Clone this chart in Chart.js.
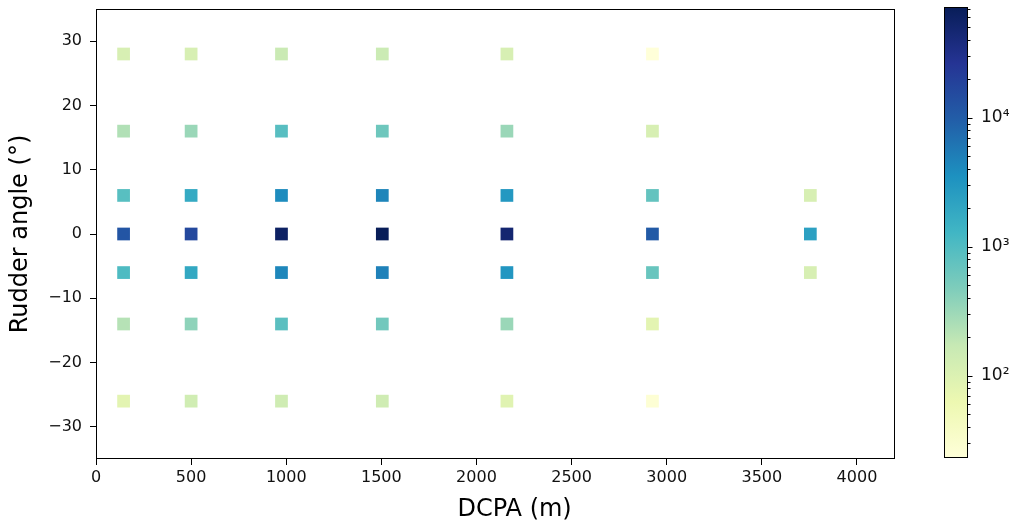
<!DOCTYPE html>
<html>
<head>
<meta charset="utf-8">
<script src="https://cdn.jsdelivr.net/npm/chart.js@4"></script>
<style>
  html, body { margin: 0; padding: 0; background: #fff; }
  #wrap { position: relative; width: 1011px; height: 530px; }
  #main { position: absolute; left: 0; top: 0; }
  #cbar { position: absolute; left: 900px; top: 0; }
</style>
</head>
<body>
<div id="wrap">
  <canvas id="main" width="1011" height="530"></canvas>
  <canvas id="cbar" width="111" height="530"></canvas>
</div>
<script>
// DCPA bins (m) and rudder angle bins (deg)
const dcpa = [145, 500, 975, 1505, 2160, 2925, 3755];
const rudder = [28, 16, 6, 0, -6, -14, -26];

// counts per rudder row, one entry per DCPA bin (null = empty cell)
const countsR28  = [114, 114, 157, 155, 114, 23, null];
const countsR16  = [234, 323, 890, 620, 323, 114, null];
const countsR6   = [880, 1800, 3900, 4500, 2900, 730, 114];
const countsR0   = [12000, 16500, 60000, 72000, 48000, 10700, 2330];
const countsRm6  = [1050, 1900, 4300, 4800, 3100, 680, 114];
const countsRm14 = [218, 380, 850, 580, 323, 83, null];
const countsRm26 = [83, 134, 140, 140, 89, 26, null];
const countRows = [countsR28, countsR16, countsR6, countsR0, countsRm6, countsRm14, countsRm26];

const xTicks = [0, 500, 1000, 1500, 2000, 2500, 3000, 3500, 4000];
const yTicks = [-30, -20, -10, 0, 10, 20, 30];
const cbarMajor = [100, 1000, 10000];
const cbarMajorLabels = ['10\u00b2', '10\u00b3', '10\u2074'];

// YlGnBu colormap stops
const ylgnbu = ['#ffffd9', '#edf8b1', '#c7e9b4', '#7fcdbb', '#41b6c4', '#1d91c0', '#225ea8', '#253494', '#081d58'];

const allCounts = countRows.flat().filter(v => v !== null);
const vmin = Math.min(...allCounts);
const vmax = Math.max(...allCounts);

function hexToRgb(h) {
  return [parseInt(h.slice(1, 3), 16), parseInt(h.slice(3, 5), 16), parseInt(h.slice(5, 7), 16)];
}

function cmap(t) {
  t = Math.max(0, Math.min(1, t));
  const p = t * (ylgnbu.length - 1);
  const i = Math.min(ylgnbu.length - 2, Math.floor(p));
  const f = p - i;
  const a = hexToRgb(ylgnbu[i]), b = hexToRgb(ylgnbu[i + 1]);
  const c = a.map((v, k) => Math.round(v + (b[k] - v) * f));
  return `rgb(${c[0]},${c[1]},${c[2]})`;
}

function colorFor(v) {
  const t = (Math.log10(v) - Math.log10(vmin)) / (Math.log10(vmax) - Math.log10(vmin));
  return cmap(t);
}

// build scatter points from the arrays
const points = [];
countRows.forEach((row, i) => {
  row.forEach((v, j) => {
    if (v !== null) points.push({ x: dcpa[j], y: rudder[i], v: v });
  });
});

// draws the box around the plot area
const frame = {
  id: 'frame',
  afterDraw(chart) {
    const { ctx, chartArea: a } = chart;
    ctx.save();
    ctx.strokeStyle = '#000';
    ctx.lineWidth = 1;
    ctx.strokeRect(Math.round(a.left) + 0.5, Math.round(a.top) + 0.5,
      Math.round(a.right - a.left) - 1, Math.round(a.bottom - a.top) - 1);
    ctx.restore();
  }
};

// keep label overhang from pushing the plot area around
function noPad(s) {
  s.paddingTop = 0; s.paddingBottom = 0; s.paddingLeft = 0; s.paddingRight = 0;
}

const tickFont = { family: 'DejaVu Sans', size: 16 };
const titleFont = { family: 'DejaVu Sans', size: 24, lineHeight: 1.2 };

new Chart(document.getElementById('main'), {
  type: 'scatter',
  data: {
    datasets: [{
      data: points,
      pointStyle: 'rect',
      pointRadius: 9,
      pointHoverRadius: 9,
      borderWidth: 0,
      backgroundColor: ctx => ctx.raw ? colorFor(ctx.raw.v) : '#fff'
    }]
  },
  options: {
    responsive: false,
    animation: false,
    layout: { padding: { left: 0, top: 7, right: 116, bottom: 0 } },
    plugins: { legend: { display: false }, tooltip: { enabled: false } },
    scales: {
      x: {
        type: 'linear', min: 0, max: 4200,
        afterBuildTicks: s => { s.ticks = xTicks.map(v => ({ value: v })); },
        afterFit: s => { s.height = 71; noPad(s); },
        border: { display: false },
        grid: { drawOnChartArea: false, drawTicks: true, tickLength: 6, color: '#000' },
        ticks: { font: tickFont, color: '#111', padding: 3, maxRotation: 0, callback: v => String(v) },
        title: { display: true, text: '     DCPA (m)', font: titleFont, color: '#000', padding: { top: 0, bottom: 6 } }
      },
      y: {
        type: 'linear', min: -35, max: 35,
        afterBuildTicks: s => { s.ticks = yTicks.map(v => ({ value: v })); },
        afterFit: s => { s.width = 96; noPad(s); },
        border: { display: false },
        grid: { drawOnChartArea: false, drawTicks: true, tickLength: 6, color: '#000' },
        ticks: { font: tickFont, color: '#111', padding: 8, callback: v => v < 0 ? '\u2212' + Math.abs(v) : String(v) },
        title: { display: true, text: 'Rudder angle (\u00b0)', font: titleFont, color: '#000', padding: { top: 6, bottom: 0 } }
      }
    }
  },
  plugins: [frame]
});

// colorbar: one floating bar on a log axis, filled with the colormap
const cbarTicks = [];
[10, 100, 1000, 10000].forEach(d => {
  for (let m = 1; m <= 9; m++) {
    const v = m * d;
    if (v >= vmin && v <= vmax) cbarTicks.push(v);
  }
});

const cbarTickMarks = {
  id: 'cbarTickMarks',
  afterDraw(chart) {
    const { ctx, chartArea: a } = chart;
    const s = chart.scales.y;
    ctx.save();
    ctx.strokeStyle = '#000';
    ctx.lineWidth = 1;
    cbarTicks.forEach(v => {
      const y = Math.round(s.getPixelForValue(v)) + 0.5;
      const len = cbarMajor.includes(v) ? 4.5 : 2.5;
      ctx.beginPath();
      ctx.moveTo(a.right, y);
      ctx.lineTo(a.right + len, y);
      ctx.stroke();
    });
    ctx.restore();
  }
};

new Chart(document.getElementById('cbar'), {
  type: 'bar',
  data: {
    labels: [''],
    datasets: [{
      data: [[vmin, vmax]],
      borderWidth: 0,
      barPercentage: 1,
      categoryPercentage: 1,
      backgroundColor: ctx => {
        const a = ctx.chart.chartArea;
        if (!a) return ylgnbu[0];
        const g = ctx.chart.ctx.createLinearGradient(0, a.bottom, 0, a.top);
        ylgnbu.forEach((c, i) => g.addColorStop(i / (ylgnbu.length - 1), c));
        return g;
      }
    }]
  },
  options: {
    responsive: false,
    animation: false,
    layout: { padding: { left: 44, top: 7, right: 0, bottom: 72 } },
    plugins: { legend: { display: false }, tooltip: { enabled: false } },
    scales: {
      x: { display: false },
      y: {
        type: 'logarithmic', position: 'right', min: vmin, max: vmax,
        afterBuildTicks: s => { s.ticks = cbarTicks.map(v => ({ value: v })); },
        afterFit: s => { s.width = 43; noPad(s); },
        border: { display: false },
        grid: { display: false, drawTicks: false },
        ticks: {
          font: { family: 'DejaVu Sans', size: 17 }, color: '#111', padding: 13, autoSkip: false,
          callback: v => {
            const k = cbarMajor.indexOf(v);
            return k >= 0 ? cbarMajorLabels[k] : '';
          }
        }
      }
    }
  },
  plugins: [frame, cbarTickMarks]
});
</script>
</body>
</html>
